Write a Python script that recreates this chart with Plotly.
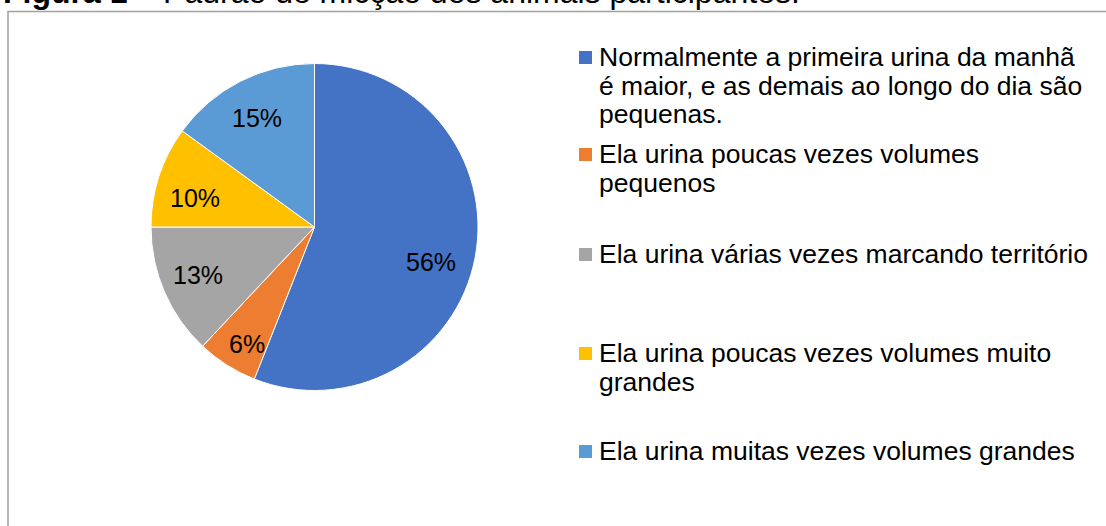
import math
import plotly.graph_objects as go

# ---- data ----
label_lines = [
    ["Normalmente a primeira urina da manhã", "é maior, e as demais ao longo do dia são", "pequenas."],
    ["Ela urina poucas vezes volumes", "pequenos"],
    ["Ela urina várias vezes marcando território"],
    ["Ela urina poucas vezes volumes muito", "grandes"],
    ["Ela urina muitas vezes volumes grandes"],
]
labels = [" ".join(l) for l in label_lines]
values = [56, 6, 13, 10, 15]
colors = ["#4472C4", "#ED7D31", "#A5A5A5", "#FFC000", "#5B9BD5"]
title_text = "<b>Figura 1</b> – Padrão de micção dos animais participantes."

# ---- layout geometry (pixels) ----
W, H = 1106, 526
FONT = "Liberation Sans, Arial, sans-serif"
cx, cy, R = 314.5, 227.0, 163.5
# small per-label pixel nudges (layout only), mimicking the "best fit" placement
label_nudge = [(-3, 12), (6, 1), (-5, 0), (-1, 10), (-2, 0)]


def xp(px):
    return px / W


def yp(py):
    return 1 - py / H


fig = go.Figure()
fig.add_trace(go.Pie(
    labels=labels,
    values=values,
    sort=False,
    direction="clockwise",
    rotation=0,
    marker=dict(colors=colors, line=dict(color="white", width=1)),
    textinfo="none",
    hoverinfo="label+percent",
    showlegend=False,
    domain=dict(x=[xp(cx - R), xp(cx + R)], y=[yp(cy + R), yp(cy - R)]),
))

annotations = []
shapes = []

# percentage labels placed from the slice angles
total = sum(values)
cum = 0
for v, (nx, ny) in zip(values, label_nudge):
    frac = v / total
    mid = 2 * math.pi * (cum + frac / 2)
    half = math.pi * frac
    s = math.sin(min(half, math.pi / 2))
    r_ins = s / (1 + s)
    rf = max(1 - r_ins, 0.745)
    dx = rf * R * math.sin(mid)
    dy = rf * R * math.cos(mid)
    annotations.append(dict(
        x=xp(cx + dx + nx), y=yp(cy - dy + ny), xref="paper", yref="paper",
        text=f"{round(100 * frac)}%", showarrow=False,
        xanchor="center", yanchor="middle",
        font=dict(family=FONT, size=25, color="#000000"),
    ))
    cum += frac

# legend (right side)
item_baselines = [66, 163, 263, 362, 460]
line_gap = 28.5
sq = 13
for lines, base, col in zip(label_lines, item_baselines, colors):
    shapes.append(dict(
        type="rect", xref="paper", yref="paper",
        x0=xp(579), x1=xp(579 + sq),
        y0=yp(base - 8.5 + sq / 2), y1=yp(base - 8.5 - sq / 2),
        fillcolor=col, line=dict(width=0),
    ))
    for j, ln in enumerate(lines):
        b = base + j * line_gap
        annotations.append(dict(
            x=xp(597), y=yp(b - 9), xref="paper", yref="paper",
            text=ln, showarrow=False, xanchor="left", yanchor="middle",
            font=dict(family=FONT, size=26.5, color="#000000"),
        ))

# title (cropped at top, as in the reference)
annotations.append(dict(
    x=xp(1), y=yp(11.5), xref="paper", yref="paper",
    text=title_text, showarrow=False, xanchor="left", yanchor="bottom",
    font=dict(family=FONT, size=32, color="#000000"),
))

# chart frame
shapes.append(dict(
    type="rect", xref="paper", yref="paper",
    x0=xp(8), x1=1.05, y0=yp(11.5), y1=-0.05,
    line=dict(color="#A0A0A0", width=1.5), fillcolor="rgba(0,0,0,0)",
    layer="below",
))

fig.update_layout(
    width=W, height=H,
    margin=dict(l=0, r=0, t=0, b=0),
    paper_bgcolor="white", plot_bgcolor="white",
    annotations=annotations, shapes=shapes,
    showlegend=False,
)

fig.write_html(
    "out.html",
    config={"displayModeBar": False},
    post_script="document.body.style.margin='0';document.body.style.overflow='hidden';",
)
